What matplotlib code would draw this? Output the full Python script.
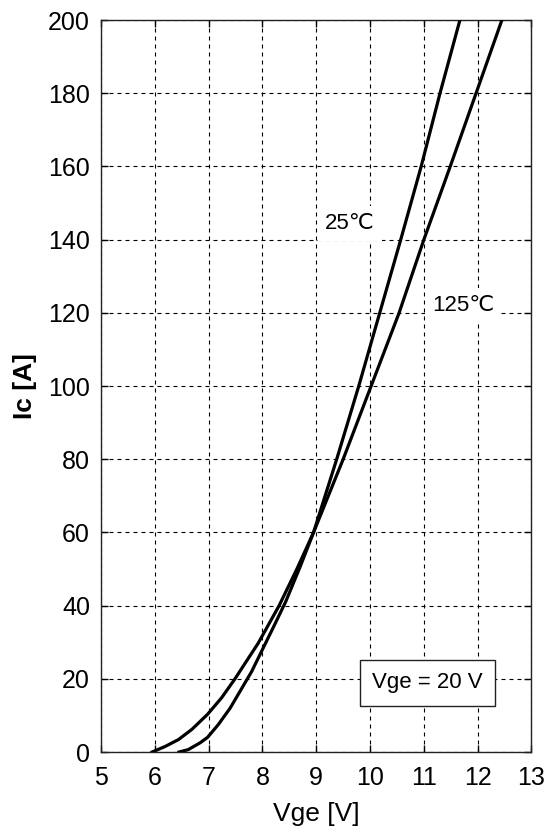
import matplotlib
matplotlib.use("Agg")
import matplotlib.pyplot as plt

# 125 C curve (lower threshold, shallower slope)
v_125 = [5.95, 6.19, 6.44, 6.69, 6.98, 7.24, 7.49, 7.68, 7.92, 8.31, 8.64, 8.95, 9.5, 10.02, 10.54, 11.0, 11.49, 11.97, 12.45]
i_125 = [0.0, 1.5, 3.4, 6.2, 10.3, 14.8, 20.0, 24.3, 29.7, 40.0, 50.0, 60.0, 80.0, 100.0, 120.0, 140.0, 160.0, 180.0, 200.0]

# 25 C curve (higher threshold, steeper slope)
v_25 = [6.45, 6.62, 6.84, 6.98, 7.18, 7.40, 7.62, 7.80, 8.0, 8.2, 8.43, 8.70, 8.95, 9.38, 9.79, 10.18, 10.57, 10.95, 11.3, 11.67]
i_25 = [0.0, 0.65, 2.5, 4.0, 7.5, 12.0, 17.5, 22.0, 28.0, 34.0, 41.0, 50.6, 60.0, 80.0, 100.0, 120.0, 140.0, 160.0, 180.0, 200.0]

x_ticks = [5, 6, 7, 8, 9, 10, 11, 12, 13]
y_ticks = [0, 20, 40, 60, 80, 100, 120, 140, 160, 180, 200]

plt.rcParams['font.family'] = ['Liberation Sans', 'DejaVu Sans']

fig = plt.figure(figsize=(5.51, 8.38), dpi=100)
ax = fig.add_axes([0.1833, 0.1026, 0.9646 - 0.1833, 0.9761 - 0.1026])

ax.set_xlim(5, 13)
ax.set_ylim(0, 200)
ax.set_xticks(x_ticks)
ax.set_yticks(y_ticks)
ax.tick_params(direction='in', length=5, width=1, top=True, right=True,
               labelsize=18, colors='black')
ax.tick_params(axis='x', pad=10)
ax.tick_params(axis='y', pad=8)

ax.grid(True, color='black', linestyle=(0, (3.6, 3.6)), linewidth=0.8)
ax.set_axisbelow(True)

ax.plot(v_25, i_25, color='black', linewidth=2.3, solid_joinstyle='round', zorder=3)
ax.plot(v_125, i_125, color='black', linewidth=2.3, solid_joinstyle='round', zorder=3)

for s in ax.spines.values():
    s.set_linewidth(1.0)
    s.set_color('#222222')

ax.text(9.63, 144.5, '25℃', fontsize=16, ha='center', va='center',
        family=['Liberation Sans', 'DejaVu Sans'],
        bbox=dict(facecolor='white', edgecolor='none', pad=5), zorder=2)
ax.text(11.73, 122, '125℃', fontsize=16, ha='center', va='center',
        family=['Liberation Sans', 'DejaVu Sans'],
        bbox=dict(facecolor='white', edgecolor='none', pad=5), zorder=2)

ax.text(11.06, 18.9, 'Vge = 20 V', fontsize=16, ha='center', va='center',
        bbox=dict(boxstyle='square,pad=0.55', facecolor='white', edgecolor='#222222', linewidth=1.0),
        zorder=4)

ax.set_xlabel('Vge [V]', fontsize=19, labelpad=9)
ax.set_ylabel('Ic [A]', fontsize=19, fontweight='bold', labelpad=8)

fig.savefig('out.png', dpi=100)
